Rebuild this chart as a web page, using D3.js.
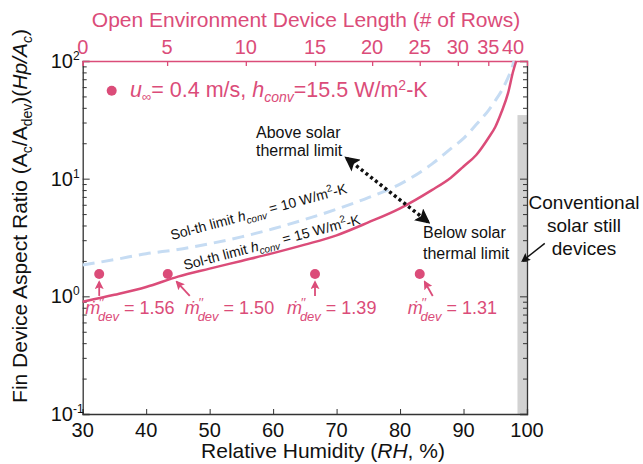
<!DOCTYPE html>
<html>
<head>
<meta charset="utf-8">
<script src="https://cdn.jsdelivr.net/npm/d3@7"></script>
<style>
  body { margin: 0; background: #fff; }
  text { font-family: "Liberation Sans", Arial, sans-serif; }
</style>
</head>
<body>
<svg id="chart"></svg>
<script>
// data
var rhSolid = [30, 35, 40, 45, 50, 55, 60, 65, 70, 75, 80, 85, 88, 90, 92, 94, 95, 96, 97, 97.8, 98.3];
var ratioH15 = [0.90, 1.03, 1.20, 1.47, 1.72, 2.0, 2.33, 2.75, 3.3, 4.25, 5.6, 8.0, 10.2, 12.7, 15.9, 22.5, 27.5, 37, 53, 81, 100];

var rhDash = [30, 35, 40, 45, 50, 55, 60, 65, 70, 75, 80, 85, 88, 90, 92, 94, 95, 96, 97, 97.6, 97.95];
var ratioH10 = [1.85, 2.05, 2.3, 2.5, 2.8, 3.2, 3.75, 4.5, 5.5, 6.9, 9.0, 13.3, 18, 22, 28.8, 38.5, 46, 56, 72, 86, 100];

var pointRH = [32.6, 43.4, 66.6, 83.1];
var pointRatio = [1.55, 1.55, 1.55, 1.55];
var pointFlux = ["1.56", "1.50", "1.39", "1.31"];

var rhTicks = [30, 40, 50, 60, 70, 80, 90, 100];
var ratioTicks = [0.1, 1, 10, 100];
var ratioTickExp = ["-1", "0", "1", "2"];
var rowTicks = [0, 5, 10, 15, 20, 25, 30, 35, 40];
var rowTickRH = [30, 43.3, 55.7, 66.6, 75.6, 83.1, 89.1, 93.9, 97.8];

var stillRH = [98.5, 100];
var stillTop = 34.7;

// parameters
var width = 643;
var height = 464;
var plotLeft = 82.7, plotRight = 527, plotTop = 61, plotBottom = 414;
var pink = "#db4c79";
var blue = "#c6dcf3";
var dark = "#333";

var svg = d3.select("#chart");
svg.attr("width", width);
svg.attr("height", height);

var x = d3.scaleLinear().domain([30, 100]).range([plotLeft, plotRight]);
var y = d3.scaleLog().domain([0.1, 100]).range([plotBottom, plotTop]);

// arrow heads
var defs = svg.append("defs");
function marker(id, color, size) {
  var m = defs.append("marker");
  m.attr("id", id)
  m.attr("viewBox", "0 0 10 10")
  m.attr("refX", 8)
  m.attr("refY", 5)
  m.attr("markerUnits", "userSpaceOnUse")
  m.attr("markerWidth", size)
  m.attr("markerHeight", size)
  m.attr("orient", "auto-start-reverse");
  m.append("path").attr("d", "M0,0 L10,5 L0,10 L2,5 Z").attr("fill", color);
}
marker("head-pink", pink, 9);
marker("head-black", "#111", 15);
marker("head-thin", "#111", 9);

// conventional solar still band
svg.append("rect")
  .attr("x", x(stillRH[0]))
  .attr("y", y(stillTop))
  .attr("width", x(stillRH[1]) - x(stillRH[0]))
  .attr("height", plotBottom - y(stillTop))
  .attr("fill", "#d2d2d2");

// axes
var bottomAxis = svg.append("g").attr("transform", "translate(0," + plotBottom + ")");
bottomAxis.call(d3.axisBottom(x).tickValues(rhTicks).tickSize(-5).tickFormat(""));
var leftAxis = svg.append("g").attr("transform", "translate(" + plotLeft + ",0)");
leftAxis.call(d3.axisLeft(y).tickValues(ratioTicks).tickSize(-7).tickFormat(""));

var minor = [];
for (var e = -1; e < 2; e += 1) {
  for (var k = 2; k < 10; k += 1) minor.push(k * Math.pow(10, e));
}
leftAxis.append("g").call(d3.axisLeft(y).tickValues(minor).tickSize(-4).tickFormat(""))
  .select(".domain").remove();

var rightAxis = svg.append("g").attr("transform", "translate(" + plotRight + ",0)");
rightAxis.call(d3.axisRight(y).tickValues(ratioTicks).tickSize(-7).tickFormat(""));
rightAxis.append("g").call(d3.axisRight(y).tickValues(minor).tickSize(-4).tickFormat(""))
  .select(".domain").remove();

var topAxis = svg.append("g").attr("transform", "translate(0," + plotTop + ")");
topAxis.call(d3.axisTop(x).tickValues(rowTickRH).tickSize(-5).tickFormat(""));

svg.selectAll(".domain").attr("stroke", dark).attr("stroke-width", 1.3);
svg.selectAll(".tick line").attr("stroke", dark);
topAxis.selectAll("path, line").attr("stroke", pink).attr("stroke-width", 1.3);

// tick labels
for (var i = 0; i < rhTicks.length; i += 1) {
  var t = svg.append("text");
  t.attr("x", x(rhTicks[i]));
  t.attr("y", 437);
  t.attr("text-anchor", "middle");
  t.attr("font-size", 20);
  t.attr("fill", "#111");
  t.text(rhTicks[i]);
}

for (var i = 0; i < ratioTicks.length; i += 1) {
  var t = svg.append("text");
  t.attr("x", 73);
  t.attr("y", y(ratioTicks[i]) + 7);
  t.attr("text-anchor", "end");
  t.attr("font-size", 20);
  t.attr("fill", "#111");
  t.text("10");
  var s = svg.append("text");
  s.attr("x", 73);
  s.attr("y", y(ratioTicks[i]) - 1);
  s.attr("font-size", 12);
  s.attr("fill", "#111");
  s.text(ratioTickExp[i]);
}

for (var i = 0; i < rowTicks.length; i += 1) {
  var t = svg.append("text");
  t.attr("x", x(rowTickRH[i]));
  t.attr("y", 54);
  t.attr("text-anchor", "middle");
  t.attr("font-size", 20);
  t.attr("fill", pink);
  t.text(rowTicks[i]);
}

// axis titles
var xt = svg.append("text")
  .attr("x", 323)
  .attr("y", 458)
  .attr("text-anchor", "middle")
  .attr("font-size", 21)
  .attr("fill", "#111");
xt.append("tspan").text("Relative Humidity (");
xt.append("tspan").attr("font-style", "italic").text("RH");
xt.append("tspan").text(", %)");

svg.append("text")
  .attr("x", 306)
  .attr("y", 27)
  .attr("text-anchor", "middle")
  .attr("font-size", 21)
  .attr("fill", pink)
  .text("Open Environment Device Length (# of Rows)");

var yt = svg.append("text")
  .attr("transform", "translate(27,216) rotate(-90)")
  .attr("text-anchor", "middle")
  .attr("font-size", 21)
  .attr("fill", "#111");
yt.append("tspan").text("Fin Device Aspect Ratio (A");
yt.append("tspan").attr("font-size", 14).attr("dy", 5).text("c");
yt.append("tspan").attr("dy", -5).text("/A");
yt.append("tspan").attr("font-size", 14).attr("dy", 5).text("dev");
yt.append("tspan").attr("dy", -5).text(")(");
yt.append("tspan").attr("font-style", "italic").text("Hp/A");
yt.append("tspan").attr("font-size", 14).attr("font-style", "italic").attr("dy", 5).text("c");
yt.append("tspan").attr("dy", -5).text(")");

// curves
var lineDash = d3.line()
  .x(function (d, i) { return x(rhDash[i]); })
  .y(function (d) { return y(d); })
  .curve(d3.curveMonotoneX);
svg.append("path")
  .attr("d", lineDash(ratioH10))
  .attr("stroke", blue)
  .attr("stroke-width", 3)
  .attr("stroke-dasharray", "12, 7")
  .attr("fill", "none");

var lineSolid = d3.line()
  .x(function (d, i) { return x(rhSolid[i]); })
  .y(function (d) { return y(d); })
  .curve(d3.curveMonotoneX);
svg.append("path")
  .attr("d", lineSolid(ratioH15))
  .attr("stroke", pink)
  .attr("stroke-width", 2.5)
  .attr("fill", "none");

// curve labels
function solLabel(px, py, ang, val) {
  var t = svg.append("text")
    .attr("transform", "translate(" + px + "," + py + ") rotate(" + ang + ")")
    .attr("font-size", 14)
    .attr("fill", "#111");
  t.append("tspan").text("Sol-th limit ");
  t.append("tspan").attr("font-style", "italic").text("h");
  t.append("tspan").attr("font-style", "italic").attr("font-size", 10).attr("dy", 4).text("conv");
  t.append("tspan").attr("dy", -4).text(" = " + val + " W/m");
  t.append("tspan").attr("font-size", 10).attr("dy", -6).text("2");
  t.append("tspan").attr("dy", 6).text("-K");
}
solLabel(172, 240, -15, "10");
solLabel(185, 270, -14.7, "15");

// measured points
var pts = svg.selectAll(".pt").data(pointRatio).enter().append("circle");
pts.attr("cx", function (d, i) { return x(pointRH[i]); });
pts.attr("cy", function (d) { return y(d); });
pts.attr("r", 5);
pts.attr("fill", pink);

// flux labels and arrows
var labelDx = [-14, 17, -28, -12];
var tailDx = [0, 22, 0, 13];
var headDx = [0, 9, 0, 5];
for (var i = 0; i < pointRH.length; i += 1) {
  var px = x(pointRH[i]);
  var py = y(pointRatio[i]);

  svg.append("line")
    .attr("x1", px + tailDx[i]).attr("y1", py + 22)
    .attr("x2", px + headDx[i]).attr("y2", py + 8)
    .attr("stroke", pink)
    .attr("stroke-width", 1.8)
    .attr("marker-end", "url(#head-pink)");

  var t = svg.append("text")
    .attr("x", px + labelDx[i])
    .attr("y", py + 40)
    .attr("font-size", 18)
    .attr("fill", pink);
  t.append("tspan").attr("font-style", "italic").text("ṁ");
  t.append("tspan").attr("font-size", 13).attr("dx", -1).attr("dy", -7).text("′′");
  t.append("tspan").attr("font-style", "italic").attr("font-size", 13).attr("dx", -6).attr("dy", 14).text("dev");
  t.append("tspan").attr("dy", -7).text(" = " + pointFlux[i]);
}

// legend
svg.append("circle")
  .attr("cx", 111.7)
  .attr("cy", 90.7)
  .attr("r", 5)
  .attr("fill", pink);
var lg = svg.append("text")
  .attr("x", 130)
  .attr("y", 97)
  .attr("font-size", 21.5)
  .attr("fill", pink);
lg.append("tspan").attr("font-style", "italic").text("u");
lg.append("tspan").attr("font-size", 13).attr("dy", 4).text("∞");
lg.append("tspan").attr("dy", -4).text("= 0.4 m/s, ");
lg.append("tspan").attr("font-style", "italic").text("h");
lg.append("tspan").attr("font-style", "italic").attr("font-size", 14).attr("dy", 5).text("conv");
lg.append("tspan").attr("dy", -5).text("=15.5 W/m");
lg.append("tspan").attr("font-size", 14).attr("dy", -7).text("2");
lg.append("tspan").attr("dy", 7).text("-K");

// above / below limit annotation
svg.append("line")
  .attr("x1", x(71.6)).attr("y1", y(14.9))
  .attr("x2", x(84.4)).attr("y2", y(4.3))
  .attr("stroke", "#111")
  .attr("stroke-width", 3.5)
  .attr("stroke-dasharray", "3, 3")
  .attr("marker-start", "url(#head-black)")
  .attr("marker-end", "url(#head-black)");

function block(lines, px, py, lh, anchor, size) {
  for (var i = 0; i < lines.length; i += 1) {
    svg.append("text")
      .attr("x", px)
      .attr("y", py + i * lh)
      .attr("text-anchor", anchor)
      .attr("font-size", size)
      .attr("fill", "#111")
      .text(lines[i]);
  }
}
block(["Above solar", "thermal limit"], 256, 138, 17.5, "start", 16);
block(["Below solar", "thermal limit"], 423, 238, 21, "start", 16);
block(["Conventional", "solar still", "devices"], 584, 209, 23, "middle", 19);

svg.append("line")
  .attr("x1", x(102.8)).attr("y1", y(2.82))
  .attr("x2", x(99.3)).attr("y2", y(2.0))
  .attr("stroke", "#111")
  .attr("stroke-width", 1.4)
  .attr("marker-end", "url(#head-thin)");
</script>
</body>
</html>
